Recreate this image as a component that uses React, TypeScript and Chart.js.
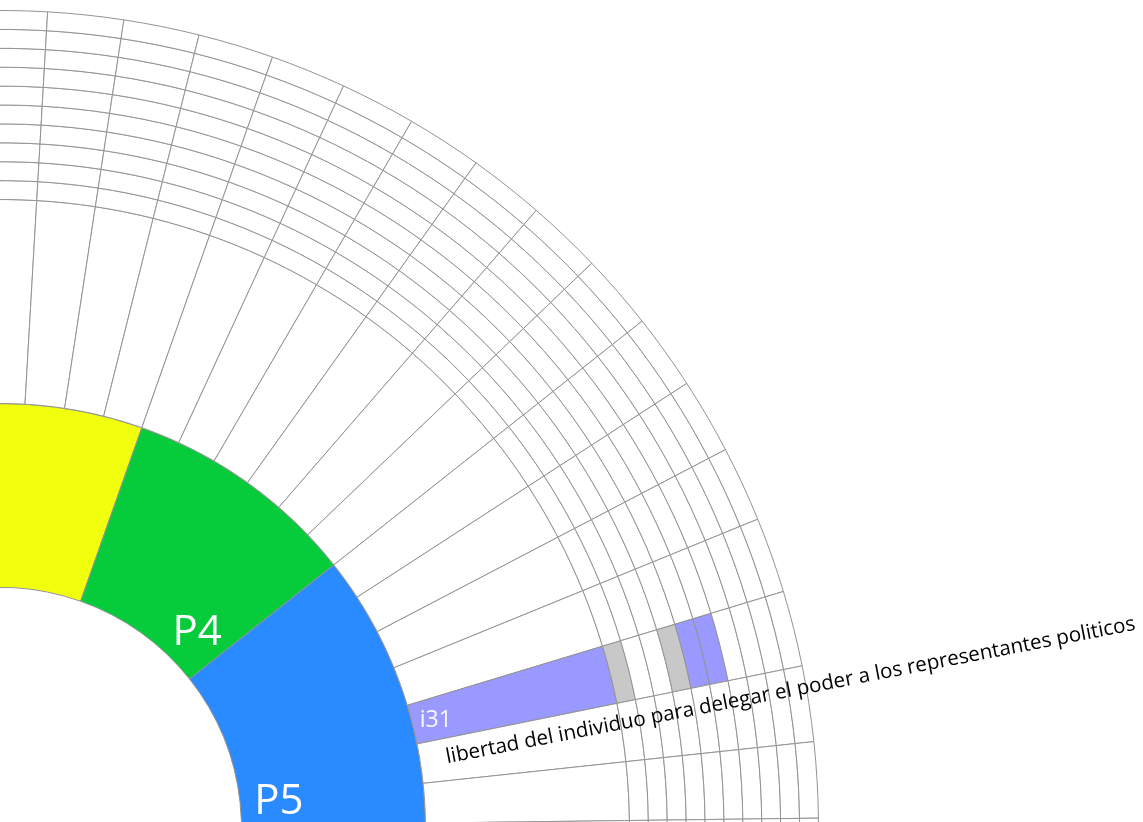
import React, { useEffect, useRef } from 'react';
import { Chart, registerables } from 'chart.js';

Chart.register(...registerables);

// ---- data ----
const groupLabels = ['P1', 'P2', 'P3', 'P4', 'P5', 'P6', 'P7'];
const groupItemCounts = [4, 4, 12, 6, 12, 15, 14];
const groupColors = ['#FF5A4E', '#FFA21F', '#F2FF0C', '#06CC3C', '#2A8AFF', '#B45CFF', '#FF5CA8'];

const itemLabels = [
  'i1', 'i2', 'i3', 'i4', 'i5', 'i6', 'i7', 'i8', 'i9', 'i10',
  'i11', 'i12', 'i13', 'i14', 'i15', 'i16', 'i17', 'i18', 'i19', 'i20',
  'i21', 'i22', 'i23', 'i24', 'i25', 'i26', 'i27', 'i28', 'i29', 'i30',
  'i31', 'i32', 'i33', 'i34', 'i35', 'i36', 'i37', 'i38', 'i39', 'i40',
  'i41', 'i42', 'i43', 'i44', 'i45', 'i46', 'i47', 'i48', 'i49', 'i50',
  'i51', 'i52', 'i53', 'i54', 'i55', 'i56', 'i57', 'i58', 'i59', 'i60',
  'i61', 'i62', 'i63', 'i64', 'i65', 'i66', 'i67',
];
const itemWeights = [
  1, 1, 1, 1, 1, 1, 1, 1, 1, 1,
  1, 1, 1, 1, 1, 1, 1, 1, 1, 1,
  1, 1, 1, 1, 1, 1, 1, 1, 1, 1,
  1, 1, 1, 1, 1, 1, 1, 1, 1, 1,
  1, 1, 1, 1, 1, 1, 1, 1, 1, 1,
  1, 1, 1, 1, 1, 1, 1, 1, 1, 1,
  1, 1, 1, 1, 1, 1, 1,
];

const ringLabels = ['R1', 'R2', 'R3', 'R4', 'R5', 'R6', 'R7', 'R8', 'R9', 'R10'];

const highlightedItem = 'i31';
const highlightedCells = [1, 0, 0, 1, 2, 2, 0, 0, 0, 0]; // 0 empty, 1 gray, 2 highlighted
const highlightedDescription = 'libertad del individuo para delegar el poder a los representantes politicos';

// ---- styles ----
const LINE = '#939393';
const HILITE = '#9999FF';
const cellColors = ['#FFFFFF', '#C8C8C8', HILITE];
const GROUP_W = 184;
const ITEM_W = 204;
const RING_W = 18.9;
const groupLabelFrac = [0.5, 0.5, 0.5, 0.777, 0.5, 0.5, 0.5];
const DESC_TILT = (0.5 * Math.PI) / 180;
const FONT = '"Open Sans", "Noto Sans", sans-serif';
const CHART_SIZE = 1637;
const EXTRA_RIGHT = 363;

const labelPlugin = {
  id: 'radialLabels',
  afterDatasetsDraw(chart: any) {
    const ctx = chart.ctx as CanvasRenderingContext2D;
    const n = chart.data.datasets.length;
    const gMeta = chart.getDatasetMeta(n - 1);
    const iMeta = chart.getDatasetMeta(n - 2);
    ctx.save();
    // group labels
    ctx.font = `42px ${FONT}`;
    ctx.fillStyle = '#FFFFFF';
    ctx.textAlign = 'center';
    ctx.textBaseline = 'alphabetic';
    gMeta.data.forEach((arc: any, i: number) => {
      const a = arc.startAngle + groupLabelFrac[i] * (arc.endAngle - arc.startAngle);
      const r = arc.innerRadius + 37;
      ctx.fillText(groupLabels[i], arc.x + r * Math.cos(a) + 2, arc.y + r * Math.sin(a) + 0.36 * 42);
    });
    // highlighted item
    const idx = itemLabels.indexOf(highlightedItem);
    const arc: any = iMeta.data[idx];
    const mid = (arc.startAngle + arc.endAngle) / 2;
    const rl = arc.innerRadius + 24;
    ctx.font = `23px ${FONT}`;
    ctx.fillStyle = '#FAFAFF';
    ctx.fillText(highlightedItem, arc.x + rl * Math.cos(mid), arc.y + rl * Math.sin(mid) + 0.36 * 23);
    // description
    ctx.translate(arc.x, arc.y);
    ctx.rotate(arc.endAngle + DESC_TILT);
    ctx.font = `20.6px ${FONT}`;
    ctx.fillStyle = '#000000';
    ctx.textAlign = 'left';
    ctx.fillText(highlightedDescription, arc.innerRadius + 26, 21);
    ctx.restore();
  },
};

export default function App() {
  const ref = useRef<HTMLCanvasElement>(null);
  useEffect(() => {
    const canvas = ref.current!;
    const hiIdx = itemLabels.indexOf(highlightedItem);
    const ringDatasets = ringLabels
      .map((name, r) => ({
        label: name,
        data: itemWeights,
        backgroundColor: itemLabels.map((_, k) => (k === hiIdx ? cellColors[highlightedCells[r]] : cellColors[0])),
        weight: RING_W,
      }))
      .reverse();
    const datasets = [
      ...ringDatasets,
      {
        label: 'items',
        data: itemWeights,
        backgroundColor: itemLabels.map((_, k) => (k === hiIdx ? HILITE : '#FFFFFF')),
        weight: ITEM_W,
      },
      { label: 'grupos', data: groupItemCounts, backgroundColor: groupColors, weight: GROUP_W },
    ].map((d) => ({
      ...d,
      borderColor: LINE,
      borderWidth: 1,
      hoverBorderWidth: 1,
      hoverOffset: 0,
      offset: 0,
    }));
    const chart = new Chart(canvas, {
      type: 'doughnut',
      data: { labels: itemLabels, datasets: datasets as any },
      options: {
        responsive: false,
        animation: false,
        events: [],
        rotation: -88.04,
        radius: 818,
        cutout: '29.46%',
        layout: { padding: { left: 0, top: 0, bottom: 0, right: EXTRA_RIGHT } },
        plugins: { legend: { display: false }, tooltip: { enabled: false } },
      } as any,
      plugins: [labelPlugin],
    });
    return () => chart.destroy();
  }, []);
  return (
    <div
      style={{
        position: 'fixed',
        left: 0,
        top: 0,
        width: '100vw',
        height: '100vh',
        overflow: 'hidden',
        background: '#FFFFFF',
      }}
    >
      <canvas
        ref={ref}
        width={CHART_SIZE + EXTRA_RIGHT}
        height={CHART_SIZE}
        style={{ position: 'absolute', left: -818, top: 10 }}
      />
    </div>
  );
}
